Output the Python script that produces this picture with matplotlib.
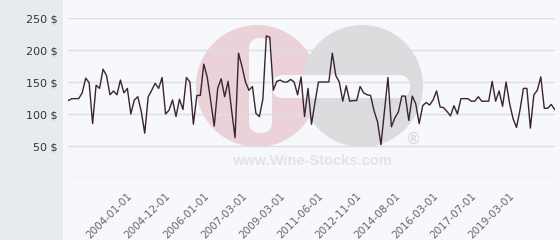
import matplotlib
matplotlib.use('Agg')
import matplotlib.pyplot as plt
from matplotlib.patches import Rectangle, Circle, FancyBboxPatch

# prix (en $), un point par relevé
prices = [121, 124, 124, 124, 133, 156, 149, 85, 145, 140,
          170, 160, 130, 136, 130, 153, 133, 140, 100, 122,
          127, 104, 70, 127, 137, 148, 140, 157, 100, 106,
          122, 96, 123, 107, 157, 150, 84, 129, 129, 178,
          157, 120, 81, 140, 155, 127, 151, 106, 63, 195,
          174, 150, 137, 143, 101, 96, 123, 222, 220, 137,
          151, 153, 150, 150, 154, 150, 130, 158, 96, 140,
          84, 118, 150, 150, 150, 150, 195, 160, 150, 120,
          144, 120, 121, 121, 143, 133, 130, 129, 105, 88,
          52, 105, 157, 80, 94, 103, 128, 128, 90, 128,
          116, 85, 113, 118, 114, 122, 136, 111, 110, 104,
          97, 113, 100, 124, 124, 124, 120, 120, 127, 120,
          120, 120, 151, 120, 136, 112, 150, 117, 93, 79,
          106, 140, 140, 78, 130, 137, 158, 109, 109, 115,
          107]

tick_labels = ['2004-01-01', '2004-12-01', '2006-01-01', '2007-03-01',
               '2009-03-01', '2011-06-01', '2012-11-01', '2014-08-01',
               '2016-03-01', '2017-07-01', '2019-03-01']
tick_idx = [17 + 11 * k for k in range(len(tick_labels))]

y_ticks = [0, 50, 100, 150, 200, 250]
y_labels = ['' if v == 0 else f'{v} $' for v in y_ticks]

W, H = 560, 240
fig = plt.figure(figsize=(W / 100, H / 100), dpi=100)

# ---------- fond + filigrane ----------
bg = fig.add_axes([0, 0, 1, 1], zorder=0)
bg.set_xlim(0, W)
bg.set_ylim(H, 0)
bg.axis('off')
bg.add_patch(Rectangle((0, 0), 63, H, fc='#e8ebee', ec='none'))
bg.add_patch(Rectangle((63, 0), W - 63, H, fc='#f7f8fb', ec='none'))
bg.add_patch(Circle((257, 86), 61, fc='#ebd2d8', ec='none'))
bg.add_patch(Circle((362, 86), 61, fc='#dcdcdf', ec='none'))
bg.add_patch(FancyBboxPatch((272, 75), 138, 23, boxstyle='round,pad=0,rounding_size=11',
                            fc='#f7f8fb', ec='none'))
bg.add_patch(FancyBboxPatch((249, 38), 23, 95, boxstyle='round,pad=0,rounding_size=11',
                            fc='#f7f8fb', ec='none'))
bg.text(312, 161, 'www.Wine-Stocks.com', ha='center', va='center', fontsize=10.5,
        fontweight='bold', family='Liberation Sans', color='#e3e3e6')
bg.text(413, 139, '®', ha='center', va='center', fontsize=11, color='#d6d6d9')

# ---------- courbe ----------
x0, x1 = 68.3, 554.7
y0, y1 = 178, 18
ax = fig.add_axes([x0 / W, (H - y0) / H, (x1 - x0) / W, (y0 - y1) / H], zorder=1)
ax.patch.set_visible(False)
ax.plot(range(len(prices)), prices, color='#3a2430', lw=1.0)

ax.set_xlim(0, len(prices) - 1)
ax.set_ylim(0, 250)
for s in ax.spines.values():
    s.set_visible(False)
ax.set_yticks(y_ticks)
ax.set_yticklabels(y_labels, fontsize=8, color='#333333')
ax.yaxis.grid(True, color='#dedee2', lw=1)
ax.set_axisbelow(True)
ax.set_xticks(tick_idx)
ax.set_xticklabels(tick_labels, rotation=45, ha='right', va='top',
                   rotation_mode='anchor', fontsize=7.5, color='#666666')
ax.tick_params(axis='both', length=0)
ax.tick_params(axis='y', pad=8)
ax.tick_params(axis='x', pad=9)

fig.savefig('out.png', dpi=100)
